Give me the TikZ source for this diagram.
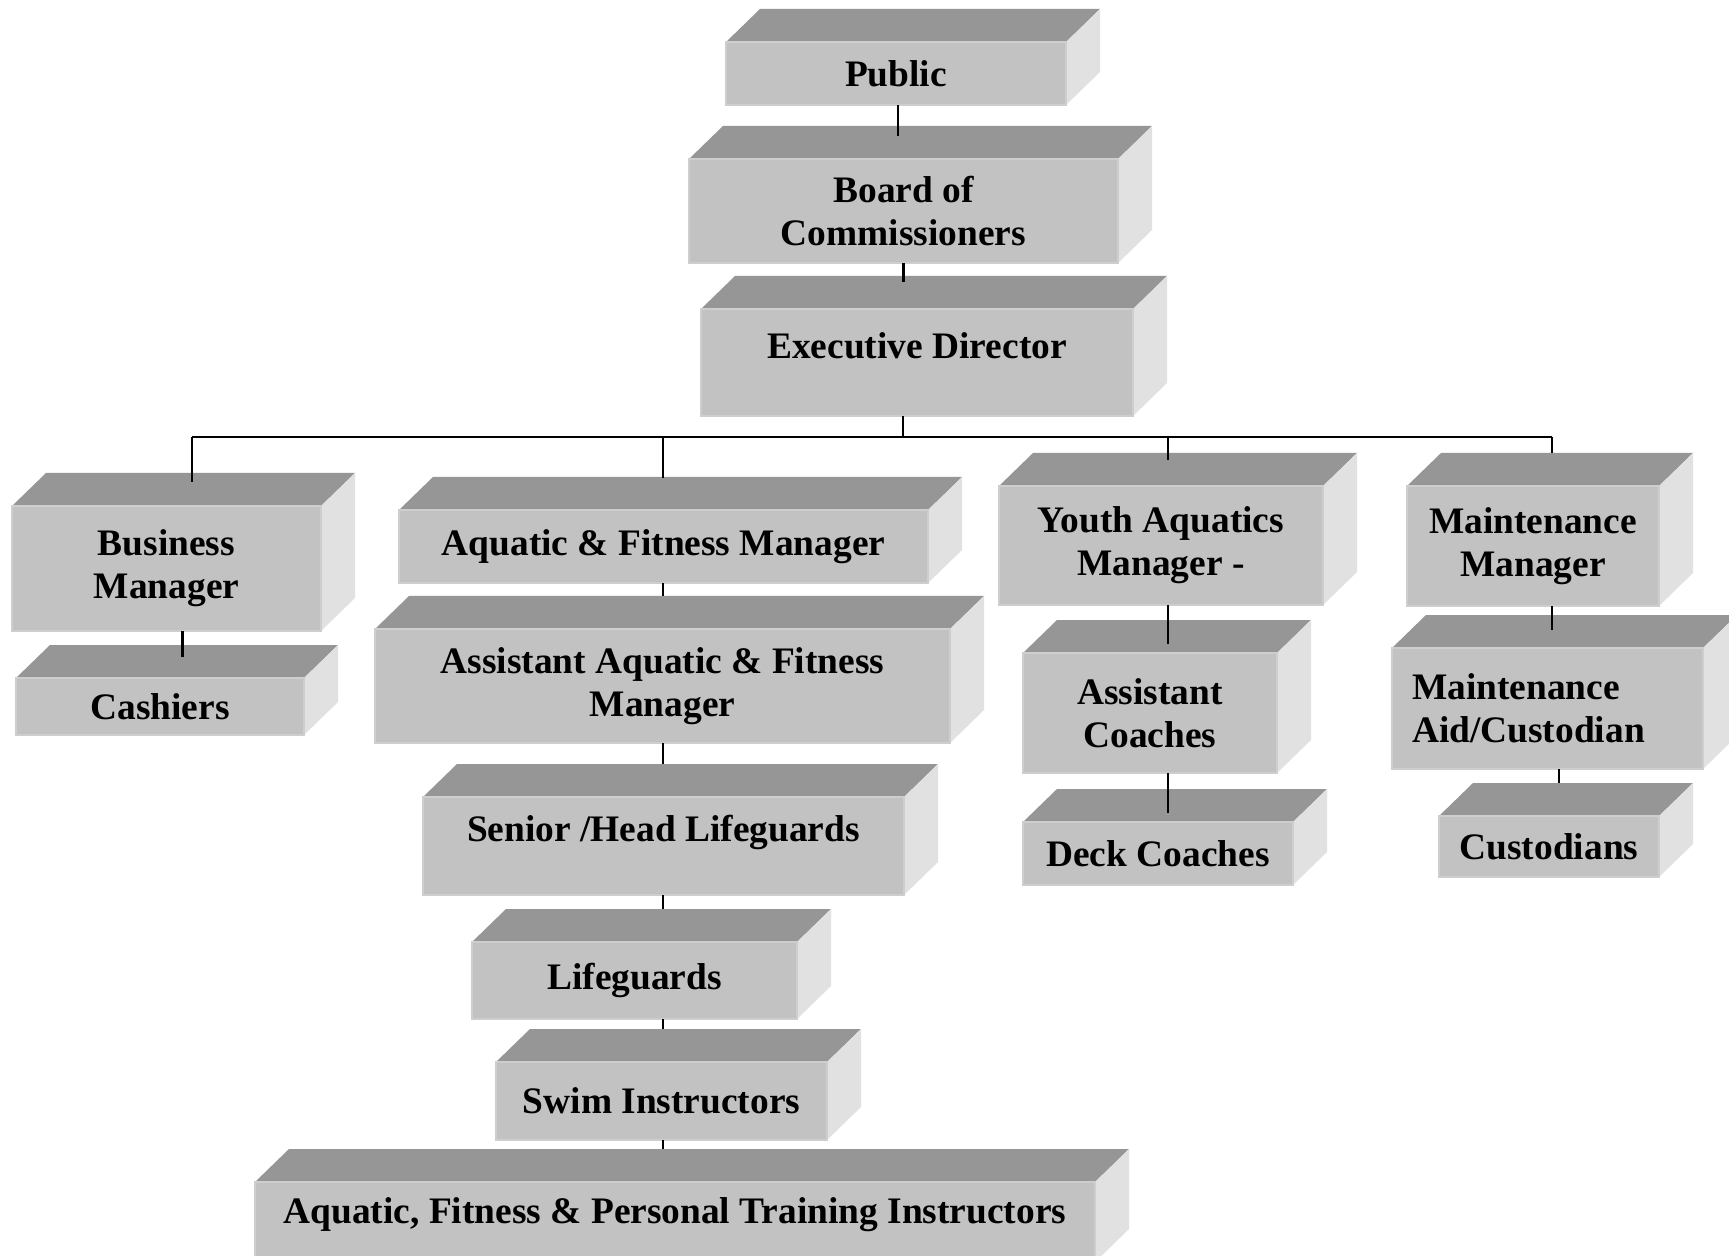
\documentclass[tikz,border=0pt]{standalone}
\usepackage{fontspec}
\setmainfont{Liberation Serif}
\usetikzlibrary{backgrounds}
\definecolor{boxFront}{HTML}{C2C2C2}
\definecolor{boxTop}{HTML}{969696}
\definecolor{boxSide}{HTML}{E1E1E1}
\definecolor{boxEdge}{HTML}{CECECE}

\begin{document}
\begin{tikzpicture}[x=0.5pt, y=-0.5pt,
    post/.style={rectangle, fill=boxFront, draw=boxEdge, line width=0.8pt,
                 inner sep=0pt, outer sep=0pt, align=center, anchor=north west,
                 font=\fontsize{18.7}{21.5}\selectfont\bfseries},
    topface/.style={fill=boxTop},
    sideface/.style={fill=boxSide},
    link/.style={line width=1.1pt, black},
    into/.style={shorten >=#1},
  ]
    \useasboundingbox (0,0) rectangle (1729,1256);

    % top of the chart
    \node[post, minimum width=170pt, minimum height=31.5pt] (pub) at (726,42) {Public};
    \node[post, minimum width=214.5pt, minimum height=52pt] (board) at (689,159) {Board of\\Commissioners};
    \node[post, minimum width=216pt, minimum height=53.5pt, text depth=17pt] (exec) at (701,309) {Executive Director};

    % business column
    \node[post, minimum width=154.5pt, minimum height=62.5pt] (bus) at (12,506) {Business\\Manager};
    \node[post, minimum width=144pt, minimum height=28.5pt] (cash) at (16,678) {Cashiers};

    % aquatics and fitness column
    \node[post, minimum width=264.5pt, minimum height=36.5pt] (afm) at (399,510) {Aquatic \& Fitness Manager};
    \node[post, minimum width=287.5pt, minimum height=57pt] (aafm) at (375,629) {Assistant Aquatic \& Fitness\\Manager};
    \node[post, minimum width=240.5pt, minimum height=49pt, text depth=18pt] (senior) at (423,797) {Senior /Head Lifeguards};
    \node[post, minimum width=162.5pt, minimum height=38.5pt] (guards) at (472,942) {Lifeguards};
    \node[post, minimum width=165.5pt, minimum height=39pt] (swim) at (496,1062) {Swim Instructors};
    \node[post, minimum width=420pt, minimum height=40pt, text depth=11pt] (instr) at (255,1182) {Aquatic, Fitness \& Personal Training Instructors};

    % youth aquatics column
    \node[post, minimum width=162pt, minimum height=59.5pt] (youth) at (999,486) {Youth Aquatics\\Manager -};
    \node[post, minimum width=127pt, minimum height=60pt] (coach) at (1023,653) {Assistant\\Coaches};
    \node[post, minimum width=135pt, minimum height=31.5pt] (deck) at (1023,822) {Deck Coaches};

    % maintenance column
    \node[post, minimum width=126pt, minimum height=60pt] (maint) at (1407,486) {Maintenance\\Manager};
    \node[post, minimum width=155.5pt, minimum height=60.5pt, align=left, text width=135.5pt] (aid) at (1392,648) {Maintenance\\Aid/Custodian};
    \node[post, minimum width=110pt, minimum height=30.5pt] (cust) at (1439,816) {Custodians};

    % top and side faces of every box
    \begin{scope}[on background layer]
      \fill[white] (0,0) rectangle (1729,1256);
      \foreach \n in {pub, board, exec, bus, cash, afm, aafm, senior, guards, swim,
                      instr, youth, coach, deck, maint, aid, cust} {
        \fill[topface] (\n.north west) -- ++(34,-33)
          -- ([shift={(34,-33)}]\n.north east) -- (\n.north east) -- cycle;
        \fill[sideface] (\n.north east) -- ++(34,-33)
          -- ([shift={(34,-33)}]\n.south east) -- (\n.south east) -- cycle;
      }
    \end{scope}

    % branch bar under the director
    \coordinate (hub) at (903,437);
    \coordinate (busDrop) at (192,437);
    \coordinate (afDrop) at (663,437);
    \coordinate (youthDrop) at (1168,437);
    \coordinate (maintDrop) at (1552,437);

    \draw[link, into=11.5pt] ([xshift=1pt]pub.south) -- ([xshift=1pt]pub.south |- board.north);
    \draw[link, into=13.5pt] (board.south) -- (board.south |- exec.north);
    \draw[link] (hub |- exec.south) -- (hub);
    \draw[link] (busDrop) -- (maintDrop);
    \draw[link, into=12pt] (busDrop) -- (busDrop |- bus.north);
    \draw[link, into=16pt] (afDrop) -- (afDrop |- afm.north);
    \draw[link, into=13pt] (youthDrop) -- (youthDrop |- youth.north);
    \draw[link, into=16.5pt] (maintDrop) -- (maintDrop |- maint.north);

    % links down each column
    \draw[link, into=10.5pt] ([xshift=8pt]bus.south) -- ([xshift=8pt]bus.south |- cash.north);
    \foreach \a/\b in {afm/aafm, aafm/senior, senior/guards, guards/swim, swim/instr}
      \draw[link, into=16.5pt] (afDrop |- \a.south) -- (afDrop |- \b.north);
    \foreach \a/\b in {youth/coach, coach/deck}
      \draw[link, into=4.5pt] (youthDrop |- \a.south) -- (youthDrop |- \b.north);
    \draw[link, into=9pt] (maintDrop |- maint.south) -- (maintDrop |- aid.north);
    \draw[link, into=16.5pt] ([xshift=3.5pt]maintDrop |- aid.south) -- ([xshift=3.5pt]maintDrop |- cust.north);
\end{tikzpicture}
\end{document}
